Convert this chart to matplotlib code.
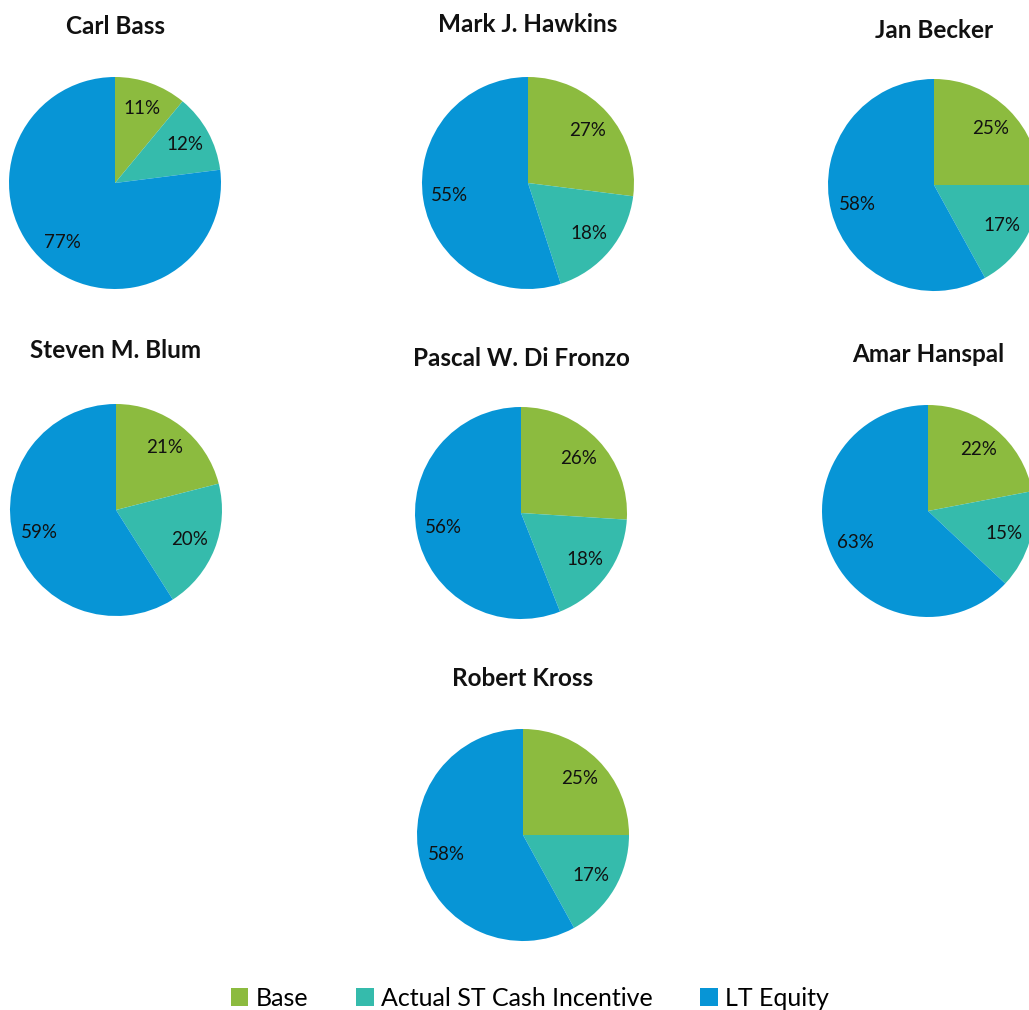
import matplotlib
matplotlib.use("Agg")
import matplotlib.pyplot as plt
import matplotlib.patches as mpatches

# ── Data ────────────────────────────────────────────────────────────────
names = ["Carl Bass", "Mark J. Hawkins", "Jan Becker",
         "Steven M. Blum", "Pascal W. Di Fronzo", "Amar Hanspal",
         "Robert Kross"]
base = [11, 27, 25, 21, 26, 22, 25]
st_cash = [12, 18, 17, 20, 18, 15, 17]
lt_equity = [77, 55, 58, 59, 56, 63, 58]
components = ["Base", "Actual ST Cash Incentive", "LT Equity"]
colors = ["#8CBB3F", "#35BBAC", "#0795D6"]

# pie centre (px), title centre y (px); radius in px
layout = [
    (115, 183, 27), (528, 183, 24), (934, 185, 31),
    (116, 510, 351), (521, 513, 358), (928, 511, 355),
    (523, 835, 679),
]
R = 106
W, H = 1029, 1010

plt.rcParams["font.family"] = ["Lato", "DejaVu Sans"]

fig = plt.figure(figsize=(W / 100, H / 100), dpi=100)
fig.patch.set_facecolor("white")

for i, name in enumerate(names):
    cx, cy, ty = layout[i]
    ax = fig.add_axes([(cx - R) / W, 1 - (cy + R) / H, 2 * R / W, 2 * R / H])
    vals = [base[i], st_cash[i], lt_equity[i]]
    ax.pie(vals, colors=colors, startangle=90, counterclock=False,
           autopct=lambda p: f"{round(p)}%", pctdistance=0.75, radius=1.0,
           textprops=dict(fontsize=13.5, color="#111111"),
           wedgeprops=dict(edgecolor="none", linewidth=0))
    ax.set_xlim(-1, 1)
    ax.set_ylim(-1, 1)
    ax.set_aspect("equal")
    ax.axis("off")
    fig.text(cx / W, 1 - ty / H, name, ha="center", va="center",
             fontsize=17.5, fontweight="bold", color="#111111")

handles = [mpatches.Patch(facecolor=c, label=l) for c, l in zip(colors, components)]
fig.legend(handles=handles, loc="center", bbox_to_anchor=(530 / W, 1 - 998 / H),
           ncol=3, frameon=False, fontsize=18, handlelength=0.7,
           handleheight=0.7, handletextpad=0.3, columnspacing=1.9)

fig.savefig("out.png", dpi=100, facecolor="white")
